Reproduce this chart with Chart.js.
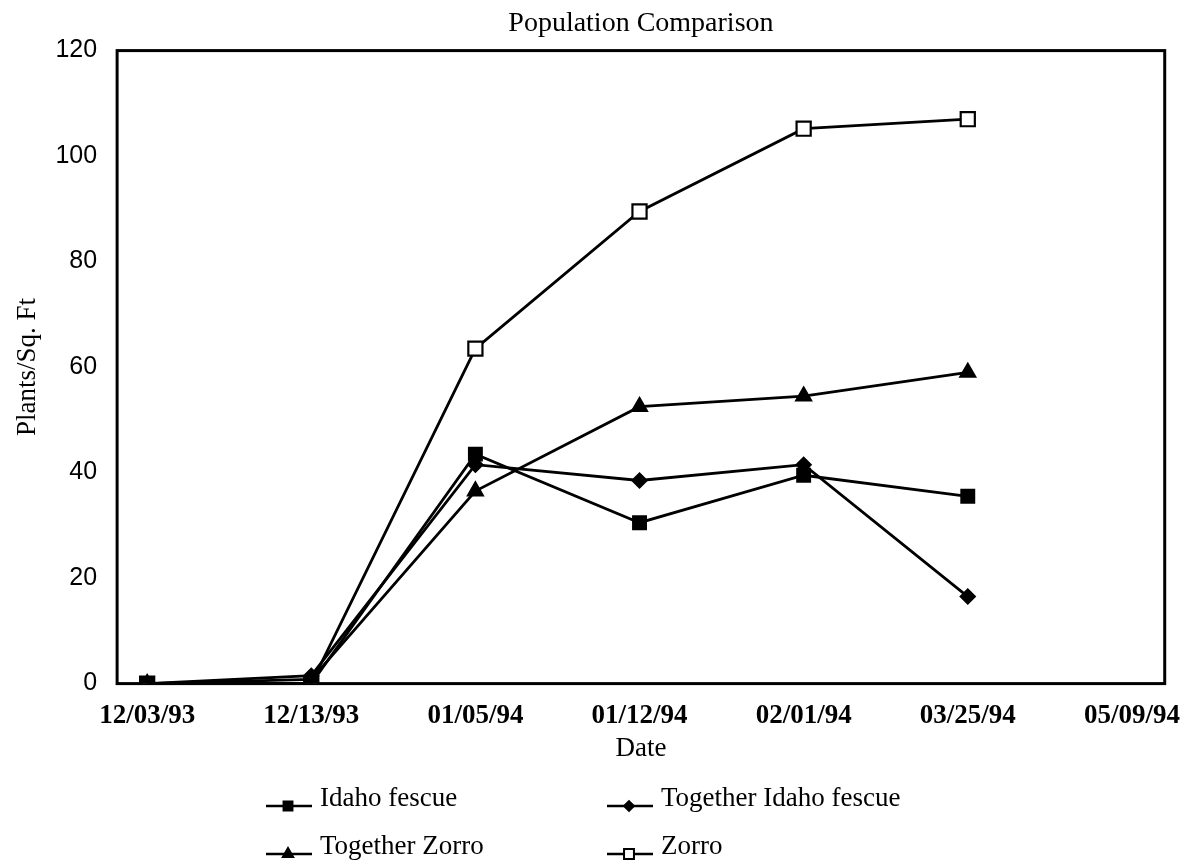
<!DOCTYPE html>
<html>
<head>
<meta charset="utf-8">
<script src="https://cdn.jsdelivr.net/npm/chart.js@4.4.0/dist/chart.umd.min.js"></script>
<style>
  body { margin: 0; background: #fff; }
  canvas { display: block; }
</style>
</head>
<body>
<canvas id="canvas" width="1200" height="864"></canvas>
<script>
var dates = ['12/03/93', '12/13/93', '01/05/94', '01/12/94', '02/01/94', '03/25/94', '05/09/94'];
var idahoFescue = [0, 0, 43.5, 30.5, 39.5, 35.5, null];
var togetherIdaho = [0, 1.5, 41.5, 38.5, 41.5, 16.5, null];
var togetherZorro = [0, 0.8, 36.5, 52.5, 54.5, 59, null];
var zorro = [0, 0, 63.5, 89.5, 105.2, 107, null];
var yTicks = [0, 20, 40, 60, 80, 100, 120];

function toPoints(arr) {
    return arr.map(function(v, i) { return {x: i, y: v}; });
}

function lineSet(label, arr, style, radius, fill) {
    return {
        label: label,
        data: toPoints(arr),
        borderColor: '#000',
        borderWidth: 2.8,
        pointStyle: style,
        pointRadius: radius,
        pointHoverRadius: radius,
        pointBackgroundColor: fill,
        pointBorderColor: '#000',
        pointBorderWidth: 2.2,
        tension: 0,
        spanGaps: false
    };
}

// box round the plot
var framePlugin = {
    id: 'frame',
    beforeDatasetsDraw: function(chart) {
        var a = chart.chartArea, ctx = chart.ctx;
        ctx.save();
        ctx.strokeStyle = '#000';
        ctx.lineWidth = 3;
        ctx.strokeRect(a.left, a.top, a.right - a.left, a.bottom - a.top);
        ctx.restore();
    }
};

// two by two legend under the chart
var gridLegend = {
    id: 'gridLegend',
    afterDraw: function(chart) {
        var ctx = chart.ctx;
        var cols = [266, 607];
        var rows = [chart.height - 65, chart.height - 17];
        ctx.save();
        chart.data.datasets.forEach(function(ds, i) {
            var x = cols[i % 2], y = rows[Math.floor(i / 2)];
            ctx.strokeStyle = '#000';
            ctx.lineWidth = 2.5;
            ctx.beginPath();
            ctx.moveTo(x, y + 7);
            ctx.lineTo(x + 46, y + 7);
            ctx.stroke();
            ctx.fillStyle = ds.pointBackgroundColor;
            ctx.lineWidth = 2;
            Chart.helpers.drawPoint(ctx, {
                pointStyle: ds.pointStyle,
                radius: ds.pointRadius * 0.7,
                rotation: 0,
                borderWidth: 2
            }, x + 22, y + 7);
            ctx.fillStyle = '#000';
            ctx.font = '27px "Liberation Serif"';
            ctx.textBaseline = 'middle';
            ctx.textAlign = 'left';
            ctx.fillText(ds.label, x + 54, y);
        });
        ctx.restore();
    }
};

window.onload = function() {
    var ctx = document.getElementById('canvas').getContext('2d');
    window.myLine = new Chart(ctx, {
        type: 'line',
        plugins: [framePlugin, gridLegend],
        data: {
            datasets: [
                lineSet('Idaho fescue', idahoFescue, 'rect', 9, '#000'),
                lineSet('Together Idaho fescue', togetherIdaho, 'rectRot', 7, '#000'),
                lineSet('Together Zorro', togetherZorro, 'triangle', 8.5, '#000'),
                lineSet('Zorro', zorro, 'rect', 10, '#fff')
            ]
        },
        options: {
            responsive: false,
            animation: false,
            layout: {
                padding: {left: 9, right: 30, top: 0, bottom: 105.5}
            },
            plugins: {
                legend: {display: false},
                tooltip: {enabled: false},
                title: {
                    display: true,
                    fullSize: false,
                    text: 'Population Comparison',
                    color: '#000',
                    font: {family: 'Liberation Serif', size: 28, weight: 'normal'},
                    padding: {top: 7, bottom: 10}
                }
            },
            scales: {
                x: {
                    type: 'linear',
                    min: -0.183,
                    max: 6.2,
                    afterBuildTicks: function(scale) {
                        scale.ticks = dates.map(function(d, i) { return {value: i}; });
                    },
                    grid: {display: false, drawTicks: false},
                    border: {display: false},
                    ticks: {
                        autoSkip: false,
                        maxRotation: 0,
                        padding: 19,
                        color: '#000',
                        font: {family: 'Liberation Serif', size: 27, weight: 'bold', lineHeight: 1},
                        callback: function(v) { return dates[v]; }
                    },
                    title: {
                        display: true,
                        text: 'Date',
                        color: '#000',
                        font: {family: 'Liberation Serif', size: 27, lineHeight: 0.7},
                        padding: {top: -9, bottom: 0}
                    }
                },
                y: {
                    min: 0,
                    max: 120,
                    afterBuildTicks: function(scale) {
                        scale.ticks = yTicks.map(function(v) { return {value: v}; });
                    },
                    grid: {display: false, drawTicks: false},
                    border: {display: false},
                    ticks: {
                        padding: 20,
                        color: '#000',
                        font: {family: 'Liberation Sans', size: 25}
                    },
                    title: {
                        display: true,
                        text: 'Plants/Sq. Ft',
                        color: '#000',
                        font: {family: 'Liberation Serif', size: 27},
                        padding: {top: 3, bottom: -9}
                    }
                }
            }
        }
    });
};
</script>
</body>
</html>
